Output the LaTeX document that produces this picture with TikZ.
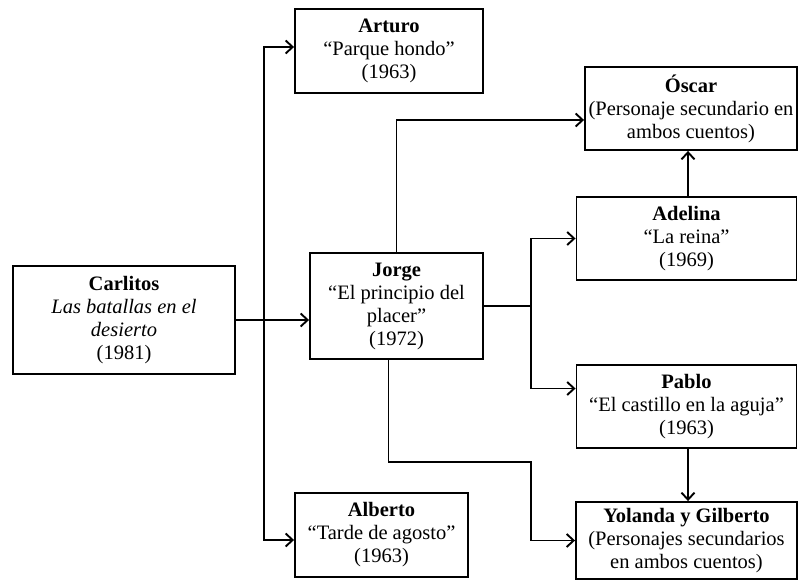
\documentclass[tikz,border=0pt]{standalone}
\usepackage{fontspec}
\setmainfont{Liberation Serif}
\usepackage{tikz}
\usetikzlibrary{arrows.meta}
\tikzset{
  story/.style={
    rectangle,
    draw=black,
    fill=white,
    line width=1.9pt,
    inner sep=0pt,
    align=center,
    font=\fontsize{20.5}{23}\selectfont
  },
  link/.style={
    -{Straight Barb[length=7pt,width=13pt,line width=1.9pt]},
    line width=1.9pt,
    draw=black
  },
  trunk/.style={
    line width=1.9pt,
    draw=black
  }
}

\begin{document}
\begin{tikzpicture}[x=1pt,y=-1pt]
  \useasboundingbox (0,0) rectangle (798,580);
  \node[story,minimum width=222pt,minimum height=108pt] (carlitos) at (124,320)
    {\textbf{Carlitos}\\\textit{Las batallas en el}\\\textit{desierto}\\(1981)};
  \node[story,minimum width=188pt,minimum height=84pt] (arturo) at (389,51)
    {\textbf{Arturo}\\“Parque hondo”\\(1963)};
  \node[story,minimum width=173pt,minimum height=106pt] (jorge) at (396.5,306)
    {\textbf{Jorge}\\“El principio del\\placer”\\(1972)};
  \node[story,minimum width=173pt,minimum height=84pt] (alberto) at (381.5,535)
    {\textbf{Alberto}\\“Tarde de agosto”\\(1963)};
  \node[story,minimum width=212pt,minimum height=83pt] (oscar) at (691,108.5)
    {\textbf{Óscar}\\(Personaje secundario en\\ambos cuentos)};
  \node[story,minimum width=220pt,minimum height=83pt] (adelina) at (686.5,238.5)
    {\textbf{Adelina}\\“La reina”\\(1969)};
  \node[story,minimum width=220pt,minimum height=83pt] (pablo) at (686.5,406.5)
    {\textbf{Pablo}\\“El castillo en la aguja”\\(1963)};
  \node[story,minimum width=221pt,minimum height=77pt] (yolanda) at (686.5,540.5)
    {\textbf{Yolanda y Gilberto}\\(Personajes secundarios\\en ambos cuentos)};

  \coordinate (split) at (264,320);
  \coordinate (fork) at (531,306);
  \coordinate (bend) at (531,462);

  % Carlitos
  \draw[trunk] (carlitos.east) -- (split);
  \draw[link] (split) -- (split -| jorge.west);
  \draw[link] (split) |- ([yshift=4pt]arturo.west);
  \draw[link] (split) |- ([yshift=-5pt]alberto.west);

  % Jorge
  \draw[trunk] (jorge.east) -- (fork);
  \draw[link] (fork) |- (adelina.west);
  \draw[link] (fork) |- ([yshift=18pt]pablo.west);
  \draw[link] (jorge.north) |- ([yshift=-11.5pt]oscar.west);
  \draw[link] ([xshift=-8pt]jorge.south) |- (bend) |- (yolanda.west);

  % secundarios
  \draw[link] ([xshift=1.5pt]adelina.north) -- ([xshift=1.5pt]adelina.north |- oscar.south);
  \draw[link] ([xshift=1.5pt]pablo.south) -- ([xshift=1.5pt]pablo.south |- yolanda.north);
\end{tikzpicture}
\end{document}
